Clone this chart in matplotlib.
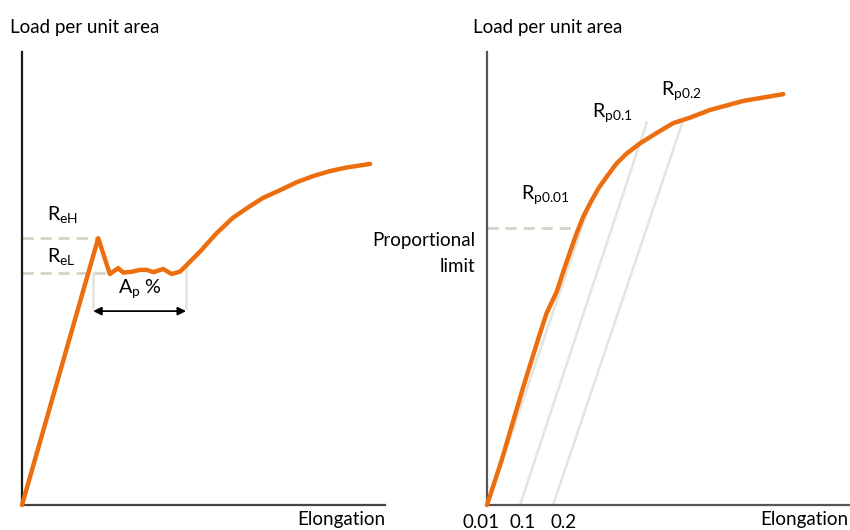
import matplotlib
matplotlib.use("Agg")
import matplotlib.pyplot as plt
from matplotlib.transforms import blended_transform_factory

plt.rcParams['font.family'] = ['Lato', 'DejaVu Sans']
plt.rcParams['mathtext.fontset'] = 'custom'
plt.rcParams['mathtext.rm'] = 'Lato'

ORANGE = '#EC6E0E'
LIGHT = '#E6E3DA'
DASH = '#D6D2C6'

# ---- Left panel data (yield point curve) ----
left_x = [0, 21.0, 24.2, 26.5, 27.9, 30.2, 32.5, 34.4, 36.2, 38.9, 41.2, 43.5,
          45.4, 49.0, 53.6, 58.1, 62.3, 66.4, 71.1, 75.8, 80.2, 84.8, 89.4, 95.9]
left_y = [0, 58.9, 51.0, 52.3, 51.3, 51.5, 51.9, 51.9, 51.4, 52.1, 51.0, 51.5,
          53.0, 55.9, 60.0, 63.4, 65.7, 67.8, 69.5, 71.3, 72.6, 73.7, 74.5, 75.3]
reh_level = 58.9
rel_level = 51.2
ap_start, ap_end = 19.6, 45.2
ap_top_start, ap_top_end = 51.2, 53.0
ap_bottom = 43.5
ap_arrow_y = 42.8

# ---- Right panel data (proof stress curve) ----
right_x = [0, 4.05, 10.0, 14.6, 16.4, 19.2, 21.8, 24.7, 26.5, 28.4, 30.7, 33.0,
           35.7, 38.5, 42.1, 46.7, 51.3, 55.9, 61.4, 70.6, 81.6]
right_y = [0, 9.93, 26.1, 37.9, 42.3, 47.1, 53.4, 60.0, 63.6, 66.6, 69.9, 72.5,
           75.4, 77.6, 79.8, 82.1, 84.3, 85.5, 87.2, 89.2, 90.7]
offset_start_x = [0.1, 9.1, 18.2]
offset_end_x = [28.4, 44.0, 53.9]
offset_end_y = [66.6, 84.4, 84.6]
prop_limit = 61.1
prop_limit_x = 25.2
offset_labels = ['0.01', '0.1', '0.2']
offset_label_x = [-1.65, 9.9, 21.2]

W, H = 850, 530
fig = plt.figure(figsize=(W / 100, H / 100), dpi=100)

def make_ax(x0):
    ax = fig.add_axes([x0 / W, (H - 505) / H, 363 / W, 453 / H])
    ax.set_xlim(0, 100)
    ax.set_ylim(0, 100)
    for s in ['top', 'right']:
        ax.spines[s].set_visible(False)
    ax.set_xticks([])
    ax.set_yticks([])
    return ax

FS = 13.5
FSR = 14.2

# Left
axL = make_ax(22)
axL.spines['left'].set_color('#1a1a1a')
axL.spines['bottom'].set_color('#444444')
for s in ['left', 'bottom']:
    axL.spines[s].set_linewidth(1.6)
axL.plot([0, left_x[1]], [reh_level, reh_level], ls=(0, (4, 2.5)), color=DASH, lw=2, zorder=1)
axL.plot([0, left_x[2]], [rel_level, rel_level], ls=(0, (4, 2.5)), color=DASH, lw=2, zorder=1)
axL.plot([ap_start, ap_start], [ap_top_start, ap_bottom], color=LIGHT, lw=1.8, zorder=1)
axL.plot([ap_end, ap_end], [ap_top_end, ap_bottom], color=LIGHT, lw=1.8, zorder=1)
axL.plot(left_x, left_y, color=ORANGE, lw=3.2, solid_joinstyle='round',
         solid_capstyle='round', zorder=3, clip_on=False)
axL.annotate('', xy=(ap_start, ap_arrow_y), xytext=(ap_end, ap_arrow_y),
             arrowprops=dict(arrowstyle='<|-|>', color='black', lw=1.3,
                             mutation_scale=12, shrinkA=0, shrinkB=0))
axL.text(7.0, 64.0, r'R$_\mathregular{eH}$', fontsize=FSR, va='center', ha='left')
axL.text(7.0, 54.7, r'R$_\mathregular{eL}$', fontsize=FSR, va='center', ha='left')
axL.text(32.5, 47.5, r'A$_\mathregular{p}$ %', fontsize=FSR, va='center', ha='center')

# Right
axR = make_ax(487)
for s in ['left', 'bottom']:
    axR.spines[s].set_color('#555555')
    axR.spines[s].set_linewidth(1.6)
for sx, ex, ey in zip(offset_start_x, offset_end_x, offset_end_y):
    axR.plot([sx, ex], [0, ey], color=LIGHT, lw=1.8, zorder=1)
axR.plot([0, prop_limit_x], [prop_limit, prop_limit], ls=(0, (4, 2.5)), color=DASH, lw=2, zorder=1)
axR.plot(right_x, right_y, color=ORANGE, lw=3.2, solid_joinstyle='round',
         solid_capstyle='round', zorder=3, clip_on=False)
axR.text(9.4, 68.4, r'R$_\mathregular{p0.01}$', fontsize=FSR, va='center', ha='left')
axR.text(29.0, 86.5, r'R$_\mathregular{p0.1}$', fontsize=FSR, va='center', ha='left')
axR.text(48.0, 91.2, r'R$_\mathregular{p0.2}$', fontsize=FSR, va='center', ha='left')
axR.text(-3.3, 55.6, 'Proportional\nlimit', fontsize=FS, va='center', ha='right',
         linespacing=1.65, clip_on=False)
tr = blended_transform_factory(axR.transData, fig.transFigure)
for lab, lx in zip(offset_labels, offset_label_x):
    axR.text(lx, 1 - 522 / H, lab, fontsize=FS, ha='center', va='center', transform=tr)

# Axis titles
fig.text(10 / W, 1 - 27 / H, 'Load per unit area', fontsize=FS, ha='left', va='center')
fig.text(473 / W, 1 - 27 / H, 'Load per unit area', fontsize=FS, ha='left', va='center')
fig.text(385 / W, 1 - 520 / H, 'Elongation', fontsize=FS, ha='right', va='center')
fig.text(848 / W, 1 - 520 / H, 'Elongation', fontsize=FS, ha='right', va='center')

fig.savefig('out.png', dpi=100)
